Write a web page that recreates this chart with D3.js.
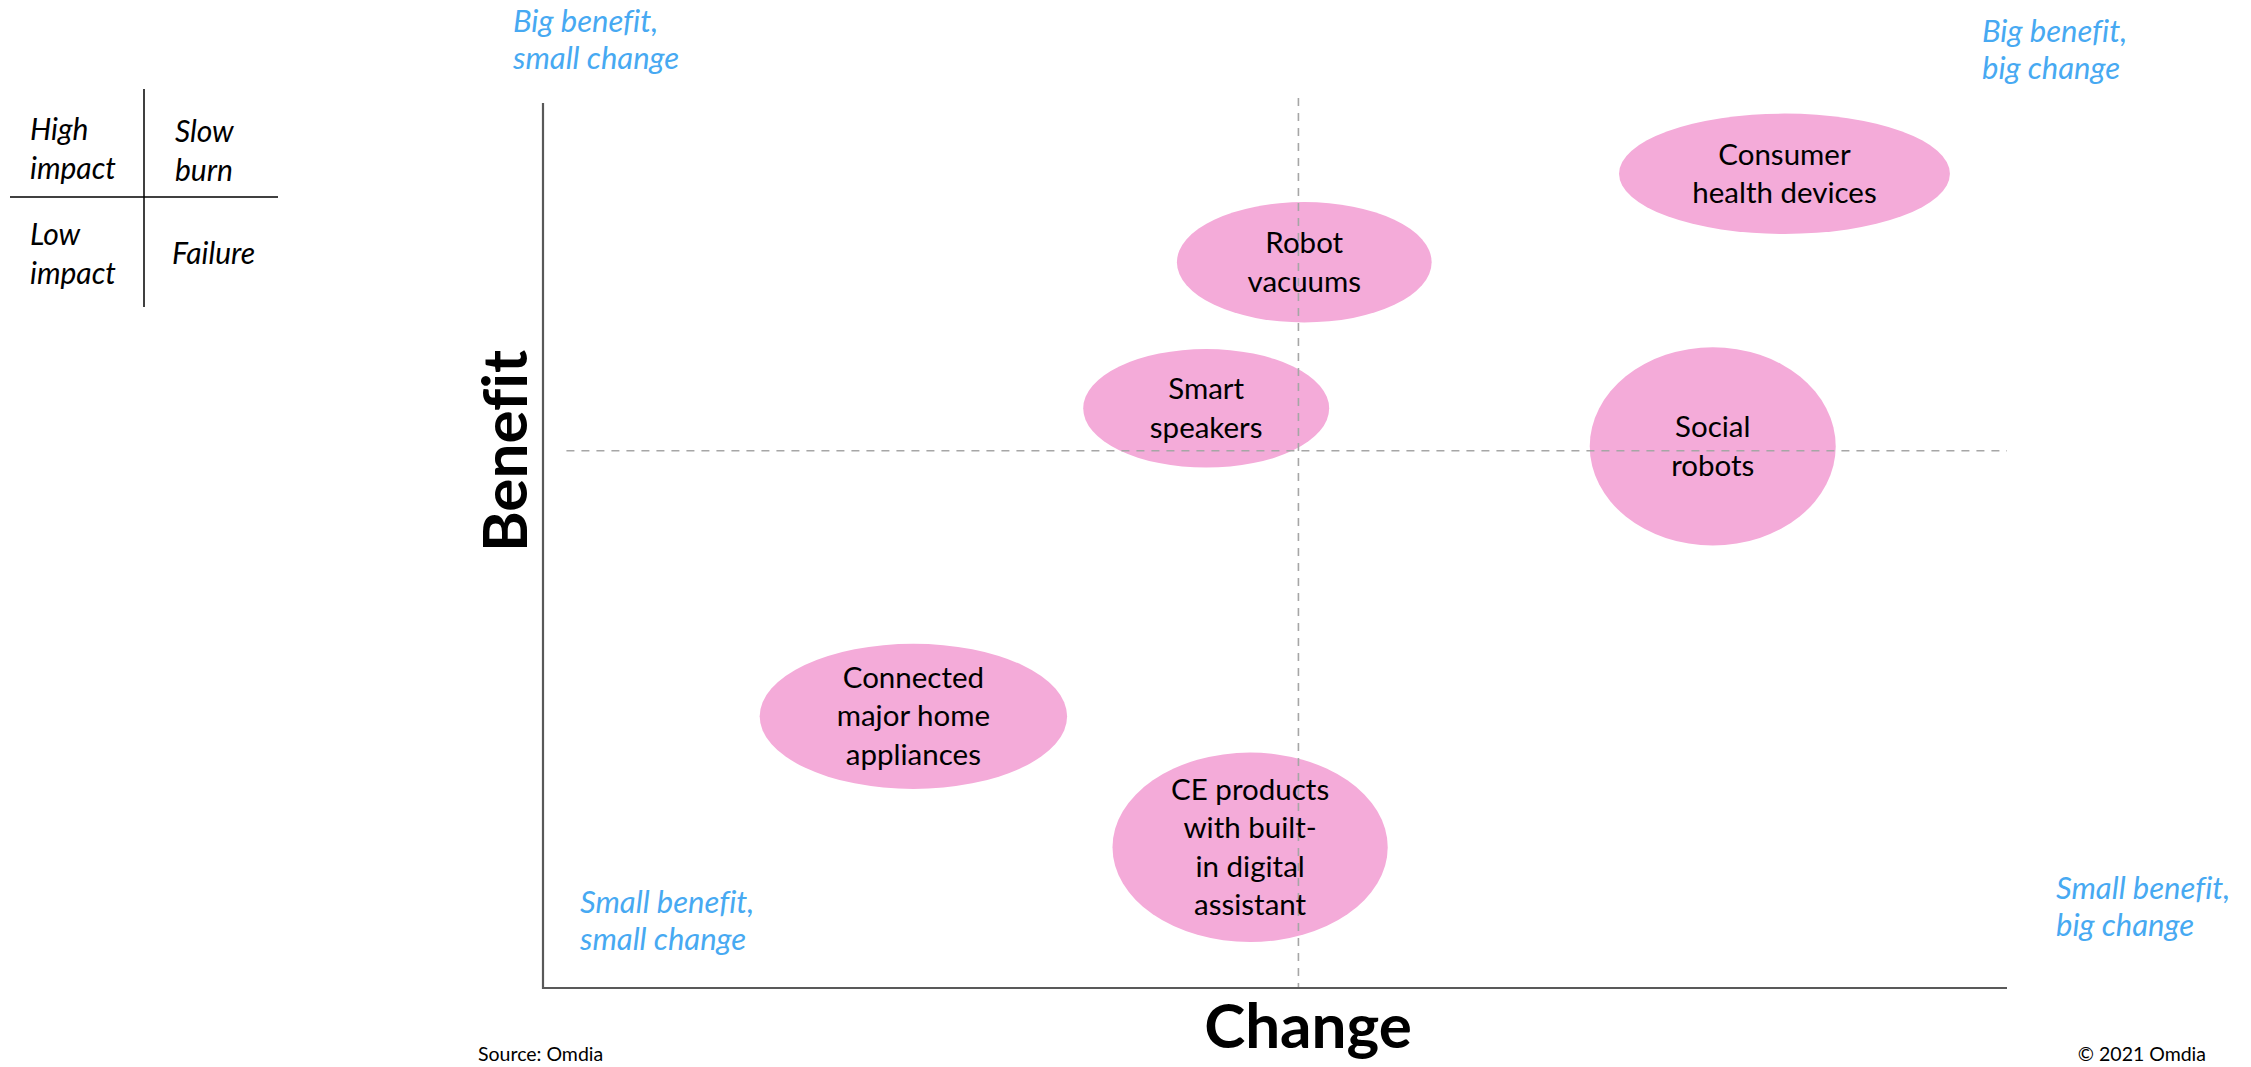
<!DOCTYPE html>
<html>
<head>
<meta charset="utf-8">
<script src="https://cdn.jsdelivr.net/npm/d3@7"></script>
<style>
  body { margin: 0; background: #fff; }
  svg text { font-family: Lato, "Open Sans", sans-serif; font-variant-ligatures: none; }
</style>
</head>
<body>
<div id="container"></div>
<script>
/* DATA */
const products = [
  "Consumer health devices",
  "Robot vacuums",
  "Smart speakers",
  "Social robots",
  "Connected major home appliances",
  "CE products with built-in digital assistant"
];
const labelLines = [
  ["Consumer", "health devices"],
  ["Robot", "vacuums"],
  ["Smart", "speakers"],
  ["Social", "robots"],
  ["Connected", "major home", "appliances"],
  ["CE products", "with built-", "in digital", "assistant"]
];
const changeVals  = [84.8, 52.0, 45.3, 79.9, 25.3, 48.3];
const benefitVals = [92.0, 82.0, 65.5, 61.2, 30.7, 15.9];
const changeSpread  = [11.3, 8.7, 8.4, 8.4, 10.5, 9.4];
const benefitSpread = [6.8, 6.8, 6.7, 11.2, 8.2, 10.7];

const midChange = 51.6;
const midBenefit = 60.7;

const quadrantLabels = [
  ["Big benefit,", "small change"],
  ["Big benefit,", "big change"],
  ["Small benefit,", "small change"],
  ["Small benefit,", "big change"]
];
const legendCells = [["High", "impact"], ["Slow", "burn"], ["Low", "impact"], ["Failure"]];

/* CONSTANTS */
const width = 2251;
const height = 1067;
const plot = { left: 543, right: 2007, top: 103, bottom: 988 };

const svg = d3.select("#container")
  .append("svg")
  .attr("width", width)
  .attr("height", height);

/* SCALES */
const xScale = d3.scaleLinear().domain([0, 100]).range([plot.left, plot.right]);
const yScale = d3.scaleLinear().domain([0, 100]).range([plot.bottom, plot.top]);
const xLen = d => xScale(d) - xScale(0);
const yLen = d => yScale(0) - yScale(d);

const bubbles = products.map((p, i) => ({
  name: p, lines: labelLines[i],
  x: changeVals[i], y: benefitVals[i],
  rx: changeSpread[i], ry: benefitSpread[i]
}));

// Ellipses
svg.selectAll("ellipse.bubble")
  .data(bubbles)
  .join("ellipse")
  .attr("class", "bubble")
  .attr("cx", d => xScale(d.x))
  .attr("cy", d => yScale(d.y))
  .attr("rx", d => xLen(d.rx))
  .attr("ry", d => yLen(d.ry))
  .style("fill", "#f4abd9");

// Dashed quadrant lines
svg.append("line")
  .attr("x1", xScale(midChange)).attr("x2", xScale(midChange))
  .attr("y1", plot.top - 5).attr("y2", plot.bottom)
  .style("stroke", "#a6a6a6").style("stroke-width", 1.6)
  .style("stroke-dasharray", "8,7");

svg.append("line")
  .attr("x1", xScale(1.6)).attr("x2", plot.right)
  .attr("y1", yScale(midBenefit)).attr("y2", yScale(midBenefit))
  .style("stroke", "#a6a6a6").style("stroke-width", 1.6)
  .style("stroke-dasharray", "8,7");

// Axes (plain lines, no ticks)
svg.append("path")
  .attr("d", `M${plot.left},${plot.top}V${plot.bottom}H${plot.right}`)
  .style("fill", "none")
  .style("stroke", "#595959")
  .style("stroke-width", 2.2);

// Bubble labels
const lineH = 38.5;
svg.selectAll("text.label")
  .data(bubbles)
  .join("text")
  .attr("class", "label")
  .attr("text-anchor", "middle")
  .style("font-size", "29.5px")
  .style("fill", "#000")
  .each(function(d) {
    const t = d3.select(this);
    const n = d.lines.length;
    d.lines.forEach((line, j) => {
      t.append("tspan")
        .attr("x", xScale(d.x))
        .attr("y", yScale(d.y) + (j - (n - 1) / 2) * lineH + 10)
        .text(line);
    });
  });

// Axis titles
svg.append("text")
  .attr("x", 1308)
  .attr("y", 1048)
  .attr("text-anchor", "middle")
  .style("font-size", "62px")
  .style("font-weight", "bold")
  .text("Change");

svg.append("text")
  .attr("transform", `translate(${527},${451}) rotate(-90)`)
  .attr("text-anchor", "middle")
  .style("font-size", "62px")
  .style("font-weight", "bold")
  .text("Benefit");

// Quadrant notes
const quadPos = [[513, 32], [1982, 42], [580, 913], [2056, 899]];
quadrantLabels.forEach((lines, i) => {
  const t = svg.append("text")
    .style("font-size", "31px")
    .style("font-style", "italic")
    .style("fill", "#47a9f2");
  lines.forEach((line, j) => {
    t.append("tspan")
      .attr("x", quadPos[i][0])
      .attr("y", quadPos[i][1] + j * 36.5)
      .text(line);
  });
});

// Legend grid (top left)
svg.append("line")
  .attr("x1", 144).attr("x2", 144).attr("y1", 89).attr("y2", 307)
  .style("stroke", "#000").style("stroke-width", 1.5);
svg.append("line")
  .attr("x1", 10).attr("x2", 278).attr("y1", 197).attr("y2", 197)
  .style("stroke", "#000").style("stroke-width", 1.5);

const legendPos = [[30, 140], [175, 142], [30, 245], [172, 264]];
legendCells.forEach((lines, i) => {
  const t = svg.append("text")
    .style("font-size", "30px")
    .style("font-style", "italic")
    .style("fill", "#000");
  lines.forEach((line, j) => {
    t.append("tspan")
      .attr("x", legendPos[i][0])
      .attr("y", legendPos[i][1] + j * 39)
      .text(line);
  });
});

// Footer
svg.append("text")
  .attr("x", 478).attr("y", 1061)
  .style("font-size", "19.5px")
  .text("Source: Omdia");

svg.append("text")
  .attr("x", 2206).attr("y", 1061)
  .attr("text-anchor", "end")
  .style("font-size", "19.5px")
  .text("© 2021 Omdia");
</script>
</body>
</html>
